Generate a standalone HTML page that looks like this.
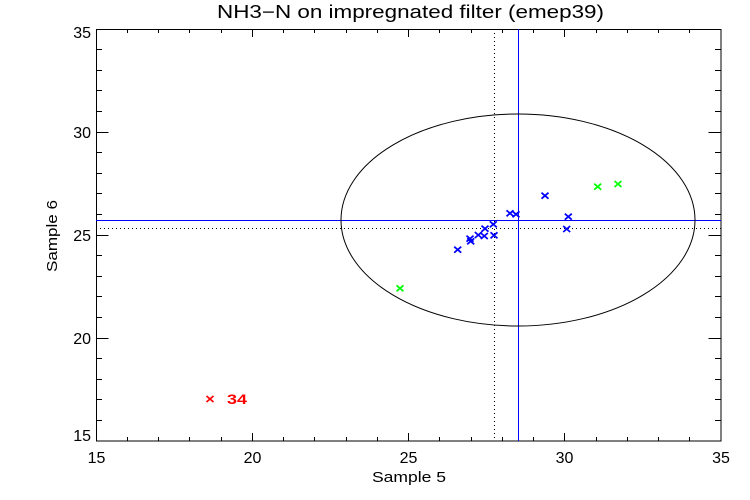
<!DOCTYPE html>
<html><head><meta charset="utf-8"><style>
html,body{margin:0;padding:0;background:#fff;}
svg{display:block;}
text{font-family:"Liberation Sans",sans-serif;fill:#000;}
</style></head><body>
<svg width="750" height="500" viewBox="0 0 750 500" xmlns="http://www.w3.org/2000/svg">
<rect width="750" height="500" fill="#fff"/>
<text x="217" y="18" font-size="18" textLength="387" lengthAdjust="spacingAndGlyphs">NH3−N on impregnated filter (emep39)</text>
<!-- frame -->
<rect x="96.5" y="29.5" width="624.5" height="411.5" fill="none" stroke="#000" stroke-width="1"/>
<!-- ticks -->
<path stroke="#000" stroke-width="1" fill="none" d="
M127.5 441v-4M158.5 441v-4M189.5 441v-4M221.5 441v-4M252.5 441v-8M283.5 441v-4M314.5 441v-4M346.5 441v-4M377.5 441v-4M408.5 441v-8M439.5 441v-4M471.5 441v-4M502.5 441v-4M533.5 441v-4M564.5 441v-8M596.5 441v-4M627.5 441v-4M658.5 441v-4M689.5 441v-4
M127.5 29v4M158.5 29v4M189.5 29v4M221.5 29v4M252.5 29v8M283.5 29v4M314.5 29v4M346.5 29v4M377.5 29v4M408.5 29v8M439.5 29v4M471.5 29v4M502.5 29v4M533.5 29v4M564.5 29v8M596.5 29v4M627.5 29v4M658.5 29v4M689.5 29v4
M96 420.5h6M96 399.5h6M96 379.5h6M96 358.5h6M96 338.5h12.5M96 317.5h6M96 296.5h6M96 276.5h6M96 255.5h6M96 235.5h12.5M96 214.5h6M96 193.5h6M96 173.5h6M96 152.5h6M96 132.5h12.5M96 111.5h6M96 90.5h6M96 70.5h6M96 49.5h6
M721 420.5h-6M721 399.5h-6M721 379.5h-6M721 358.5h-6M721 338.5h-12.5M721 317.5h-6M721 296.5h-6M721 276.5h-6M721 255.5h-6M721 235.5h-12.5M721 214.5h-6M721 193.5h-6M721 173.5h-6M721 152.5h-6M721 132.5h-12.5M721 111.5h-6M721 90.5h-6M721 70.5h-6M721 49.5h-6"/>
<!-- tick labels -->
<g font-size="16" text-anchor="middle">
<text x="96.5" y="463">15</text>
<text x="252.5" y="463">20</text>
<text x="408.5" y="463">25</text>
<text x="564.5" y="463">30</text>
<text x="721" y="463">35</text>
</g>
<g font-size="16" text-anchor="end">
<text x="91" y="441">15</text>
<text x="91" y="344">20</text>
<text x="91" y="241">25</text>
<text x="91" y="138">30</text>
<text x="91" y="38">35</text>
</g>
<text x="409" y="482" font-size="15" text-anchor="middle" textLength="74" lengthAdjust="spacingAndGlyphs">Sample 5</text>
<text transform="translate(57,236) rotate(-90)" x="0" y="0" font-size="15" text-anchor="middle" textLength="72" lengthAdjust="spacingAndGlyphs">Sample 6</text>
<!-- dotted lines -->
<path d="M494.5 29V441M96 228.5H721" stroke="#000" stroke-width="1" stroke-dasharray="1 3" fill="none"/>
<!-- blue lines -->
<path d="M518.5 29V441M96 220.5H721" stroke="#0000ff" stroke-width="1" fill="none"/>
<!-- ellipse -->
<ellipse cx="518" cy="220" rx="177" ry="106" fill="none" stroke="#000" stroke-width="1"/>
<!-- markers -->
<g stroke="#0000ff" stroke-width="1.7" fill="none">
<path d="M454.2 246.7l7 6m-7 0l7-6"/>
<path d="M466.5 235.7l7 6m-7 0l7-6"/>
<path d="M467.2 238.3l7 6m-7 0l7-6"/>
<path d="M474.8 232l7 6m-7 0l7-6"/>
<path d="M480.8 233l7 6m-7 0l7-6"/>
<path d="M481.5 225.7l7 6m-7 0l7-6"/>
<path d="M489.8 221.3l7 6m-7 0l7-6"/>
<path d="M490.5 232.3l7 6m-7 0l7-6"/>
<path d="M506.5 210.3l7 6m-7 0l7-6"/>
<path d="M512.5 211.3l7 6m-7 0l7-6"/>
<path d="M541.5 192.7l7 6m-7 0l7-6"/>
<path d="M564.8 213.7l7 6m-7 0l7-6"/>
<path d="M563.2 226l7 6m-7 0l7-6"/>
</g>
<g stroke="#00ff00" stroke-width="1.7" fill="none">
<path d="M594.2 183.7l7 6m-7 0l7-6"/>
<path d="M614.5 181l7 6m-7 0l7-6"/>
<path d="M396.5 285.3l7 6m-7 0l7-6"/>
</g>
<g stroke="#ff0000" stroke-width="1.7" fill="none">
<path d="M206.5 396l7 6m-7 0l7-6"/>
</g>
<text x="227" y="404" font-size="14" font-weight="bold" fill="#ff0000" style="fill:#ff0000" textLength="20" lengthAdjust="spacingAndGlyphs">34</text>
</svg>
</body></html>
